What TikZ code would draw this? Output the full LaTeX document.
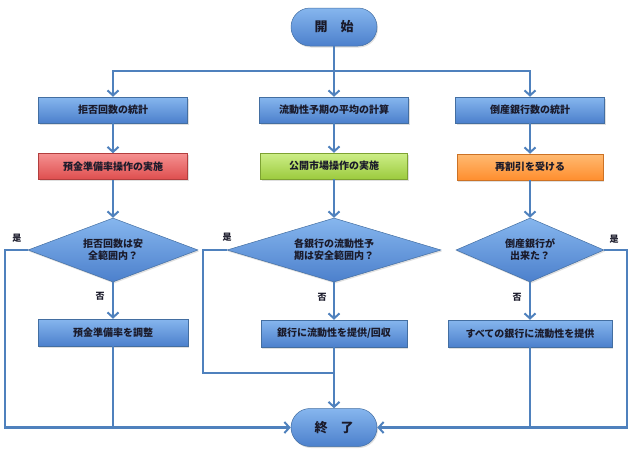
\documentclass[tikz,border=0pt]{standalone}
\usepackage{fontspec}
\setmainfont{Noto Sans CJK JP}
\usetikzlibrary{shapes.geometric,arrows.meta,shadows}
\definecolor{linec}{HTML}{4F81BD}
\definecolor{bluetop}{HTML}{86B6EE}
\definecolor{bluebot}{HTML}{4C80CC}
\definecolor{redtop}{HTML}{F59090}
\definecolor{redbot}{HTML}{DE4E4E}
\definecolor{greentop}{HTML}{CDEE88}
\definecolor{greenbot}{HTML}{9CCB3E}
\definecolor{orgtop}{HTML}{FFBA72}
\definecolor{orgbot}{HTML}{FF8E2E}
\definecolor{txt}{HTML}{1A1A2A}
\tikzset{
  base/.style={draw=linec!85!black, line width=0.5pt, inner sep=0pt, font=\bfseries\fontsize{10}{12}\selectfont, text=txt, align=center,
    drop shadow={shadow xshift=1pt, shadow yshift=-1.5pt, opacity=0.25}},
  bluebox/.style={base, rectangle, top color=bluetop, bottom color=bluebot, minimum height=26pt},
  redbox/.style={base, rectangle, top color=redtop, bottom color=redbot, draw=redbot!80!black, minimum height=26pt},
  greenbox/.style={base, rectangle, top color=greentop, bottom color=greenbot, draw=greenbot!80!black, minimum height=26pt},
  orgbox/.style={base, rectangle, top color=orgtop, bottom color=orgbot, draw=orgbot!80!black, minimum height=26pt},
  decision/.style={base, diamond, top color=bluetop, bottom color=bluebot, minimum height=64pt},
  terminal/.style={base, rectangle, rounded corners=19pt, top color=bluetop, bottom color=bluebot, minimum width=86pt, minimum height=38pt, font=\bfseries\fontsize{13}{15}\selectfont},
  conn/.style={draw=linec, line width=2.4pt, -{Straight Barb[length=5pt,width=11pt,line width=2pt]}},
  plain/.style={draw=linec, line width=2.4pt},
  yn/.style={font=\bfseries\fontsize{9}{10}\selectfont, text=txt, inner sep=0pt}
}
\begin{document}
\begin{tikzpicture}[x=1pt,y=-1pt]
\useasboundingbox (0,0) rectangle (634,456);
% nodes
\node[terminal] (start) at (334,27) {開\quad 始};
\node[bluebox, minimum width=149pt] (l1) at (113,110) {拒否回数の統計};
\node[bluebox, minimum width=149pt] (m1) at (334,110) {流動性予期の平均の計算};
\node[bluebox, minimum width=149pt] (r1) at (530,110) {倒産銀行数の統計};
\node[redbox, minimum width=149pt] (l2) at (113,166.5) {預金準備率操作の実施};
\node[greenbox, minimum width=147pt] (m2) at (334,166) {公開市場操作の実施};
\node[orgbox, minimum width=146pt] (r2) at (530,167) {再割引を受ける};
\node[decision, shape aspect=2.66, minimum width=170pt] (ld) at (113,250) {拒否回数は安\\全範囲内？};
\node[decision, shape aspect=3.34, minimum width=214pt] (md) at (334,250) {各銀行の流動性予\\期は安全範囲内？};
\node[decision, shape aspect=2.3, minimum width=148pt] (rd) at (530,250) {倒産銀行が\\出来た？};
\node[bluebox, minimum width=150pt, minimum height=27pt] (l3) at (113,332.5) {預金準備率を調整};
\node[bluebox, minimum width=146pt, minimum height=27pt] (m3) at (334,333.5) {銀行に流動性を提供/回収};
\node[bluebox, minimum width=164pt, minimum height=27pt] (r3) at (530,333.5) {すべての銀行に流動性を提供};
\node[terminal] (end) at (334,427.5) {終\quad 了};
% coordinates
\coordinate (split) at (334,71);
\coordinate (lc) at (5,427.5);
\coordinate (mc) at (203,373);
\coordinate (rc) at (627,427.5);
% connectors
\draw[plain] (start.south) -- (split);
\draw[conn] (split) -| (l1.north);
\draw[conn] (split) -| (r1.north);
\draw[conn] (split) -- (m1.north);
\draw[conn] (l1) -- (l2);
\draw[conn] (m1) -- (m2);
\draw[conn] (r1) -- (r2);
\draw[conn] (l2) -- (ld);
\draw[conn] (m2) -- (md);
\draw[conn] (r2) -- (rd);
\draw[conn] (ld) -- (l3);
\draw[conn] (md) -- (m3);
\draw[conn] (rd) -- (r3);
\draw[conn] (ld.west) -| (lc) -- (end.west);
\draw[conn] (rd.east) -| (rc) -- (end.east);
\draw[plain] (md.west) -| (mc) -- (mc -| m3.south);
\draw[plain] (l3.south) -- (l3.south |- end.west);
\draw[plain] (r3.south) -- (r3.south |- end.east);
\draw[conn] (m3) -- (end);
% labels
\node[yn] (y1) at (17,238) {是};
\node[yn] (y2) at (227,237) {是};
\node[yn] (y3) at (614,239) {是};
\node[yn] (n1) at (100,296) {否};
\node[yn] (n2) at (322,297) {否};
\node[yn] (n3) at (517,297) {否};
\end{tikzpicture}
\end{document}
